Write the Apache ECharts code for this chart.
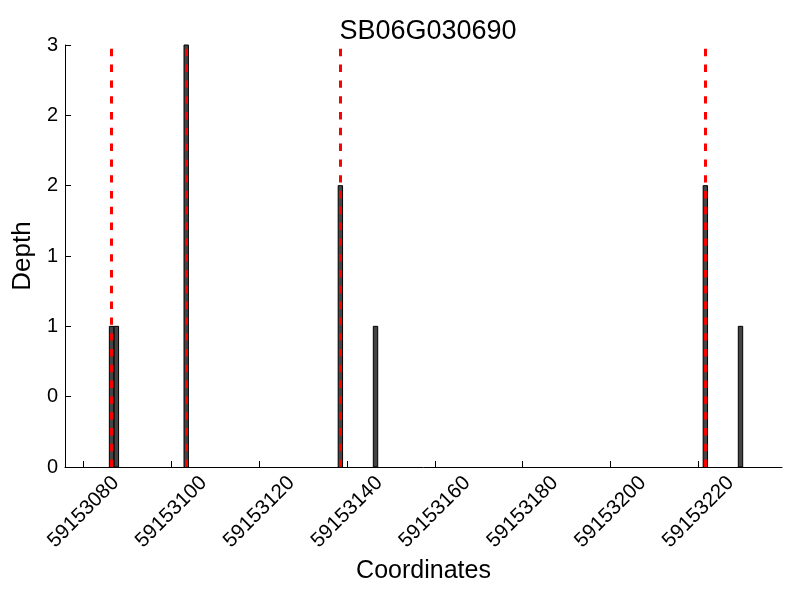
<!DOCTYPE html>
<html>
<head>
<meta charset="utf-8">
<script src="https://cdn.jsdelivr.net/npm/echarts@6/dist/echarts.min.js"></script>
<style>html,body{margin:0;padding:0;background:#fff}#c{width:800px;height:600px}</style>
</head>
<body>
<div id="c"></div>
<script>
// ---- data ----
const barPositions = [59153086.4, 59153087.5, 59153103.4, 59153138.5, 59153146.5, 59153221.6, 59153229.6];
const barDepths    = [1, 1, 3, 2, 1, 2, 1];
const markerPositions = [59153086.4, 59153103.4, 59153138.5, 59153221.6];
const xTickValues = [59153080, 59153100, 59153120, 59153140, 59153160, 59153180, 59153200, 59153220];
const yTickValues = [0, 0.5, 1, 1.5, 2, 2.5, 3];
const titleText = 'SB06G030690';

const BAR_W = 1;
const FONT = '"Liberation Sans", Arial, Helvetica, sans-serif';

const chart = echarts.init(document.getElementById('c'), null, {renderer: 'canvas'});
const barData = barPositions.map((x, i) => [x, barDepths[i]]);

chart.setOption({
  animation: false,
  backgroundColor: '#ffffff',
  title: {
    text: titleText,
    left: 423, top: 13, textAlign: 'center',
    textStyle: {fontFamily: FONT, fontSize: 27, fontWeight: 'normal', color: '#000'}
  },
  grid: {left: 65, right: 18, top: 45, bottom: 133, containLabel: false},
  xAxis: {
    type: 'value',
    min: 59153075.8, max: 59153239.05,
    name: 'Coordinates', nameLocation: 'middle', nameGap: 85,
    nameTextStyle: {fontFamily: FONT, fontSize: 25, color: '#000'},
    axisLine: {show: true, onZero: false, lineStyle: {color: '#000', width: 1}},
    axisTick: {show: true, inside: true, length: 6, customValues: xTickValues, lineStyle: {color: '#000'}},
    axisLabel: {
      customValues: xTickValues, rotate: 45, align: 'center', verticalAlign: 'middle',
      margin: 45, fontFamily: FONT, fontSize: 20.5, color: '#000',
      formatter: v => String(Math.round(v))
    },
    splitLine: {show: false}
  },
  yAxis: {
    type: 'value', min: 0, max: 3,
    name: 'Depth', nameLocation: 'middle', nameGap: 25,
    nameTextStyle: {fontFamily: FONT, fontSize: 26, color: '#000'},
    axisLine: {show: true, lineStyle: {color: '#000', width: 1}},
    axisTick: {show: true, inside: true, length: 6, customValues: yTickValues, lineStyle: {color: '#000'}},
    axisLabel: {customValues: yTickValues, margin: 7, fontFamily: FONT, fontSize: 20, color: '#000',
      formatter: v => String(Math.floor(v + 1e-9))},
    splitLine: {show: false}
  },
  series: [
    {
      type: 'custom',
      data: barData,
      z: 2,
      renderItem: function (params, api) {
        const x = api.value(0), h = api.value(1);
        const p0 = api.coord([x - BAR_W / 2, h]);
        const p1 = api.coord([x + BAR_W / 2, 0]);
        return {
          type: 'rect',
          shape: {x: p0[0], y: p0[1], width: p1[0] - p0[0], height: p1[1] - p0[1]},
          style: {fill: '#444444', stroke: '#000000', lineWidth: 1}
        };
      }
    },
    {
      type: 'line',
      data: [],
      z: 10,
      markLine: {
        silent: true, symbol: 'none', animation: false,
        label: {show: false},
        lineStyle: {color: '#ff0000', width: 3, type: [7.4, 8.4]},
        data: markerPositions.map(v => ({xAxis: v}))
      }
    }
  ]
});
</script>
</body>
</html>
